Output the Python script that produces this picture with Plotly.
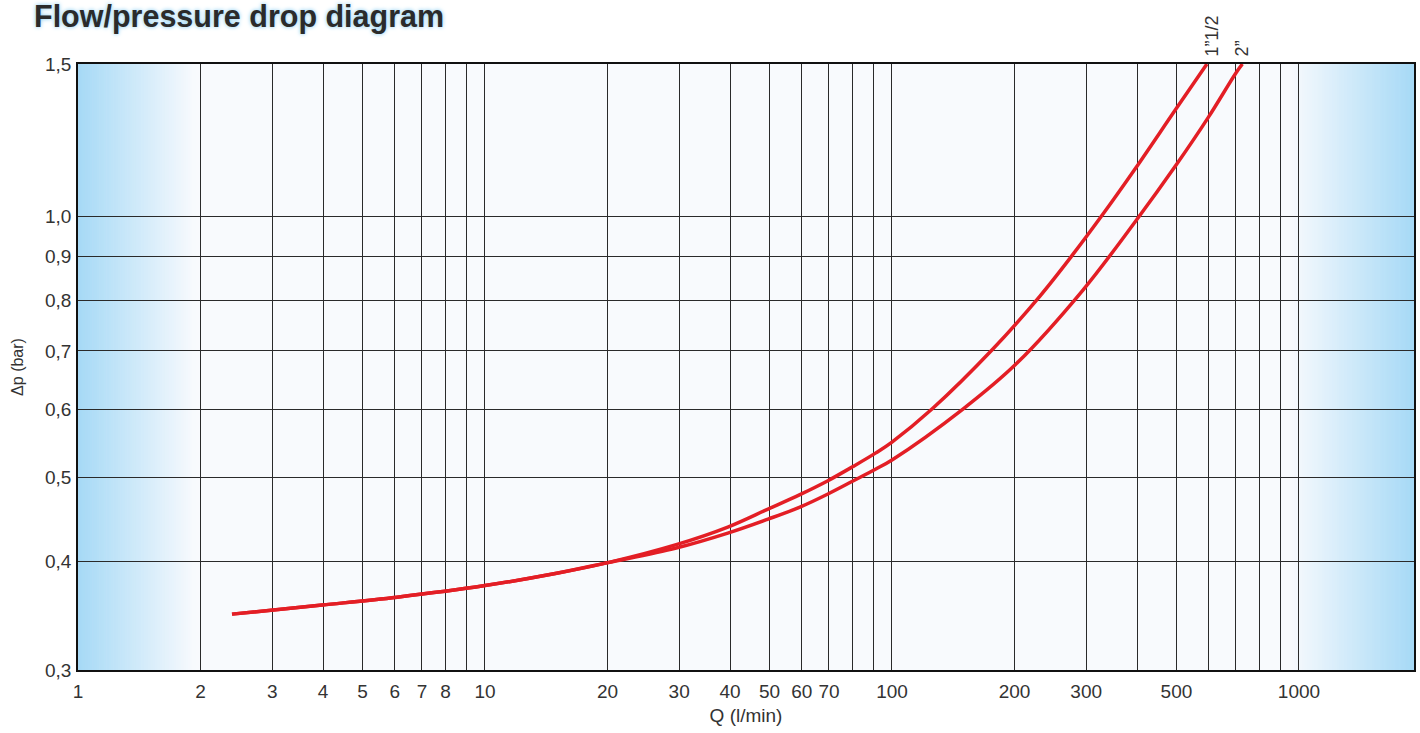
import numpy as np
import plotly.graph_objects as go

# ---------------- data ----------------
q_1half = [2.39, 3.98, 6.08, 10, 15.0, 20.05, 29.5, 39.5, 49.6, 59.4, 69.6, 80.2, 91.3, 100,
           125.4, 177, 231, 278, 330, 395.5, 499, 594]
dp_1half = [0.348, 0.3565, 0.364, 0.3754, 0.3879, 0.399, 0.4185, 0.4385, 0.460, 0.478, 0.496,
            0.515, 0.534, 0.5496, 0.600, 0.7037, 0.810, 0.904, 1.007, 1.135, 1.332, 1.5]

q_2 = [2.39, 3.98, 6.08, 10, 15.0, 20.05, 29.5, 39.5, 49.6, 59.4, 69.6, 80.2, 91.3, 100,
       149.4, 202.9, 294.6, 395.5, 499, 597.6, 700, 726]
dp_2 = [0.348, 0.3565, 0.364, 0.3754, 0.3879, 0.399, 0.4148, 0.4316, 0.4479, 0.4624, 0.4788,
        0.4956, 0.5116, 0.5241, 0.600, 0.678, 0.823, 0.986, 1.147, 1.300, 1.4646, 1.5]

series_names = ["1\u201d1/2", "2\u201d"]

x_grid = [1, 2, 3, 4, 5, 6, 7, 8, 9, 10, 20, 30, 40, 50, 60, 70, 80, 90,
          100, 200, 300, 400, 500, 600, 700, 800, 900, 1000]
x_labels = ["1", "2", "3", "4", "5", "6", "7", "8", "", "10", "20", "30", "40", "50", "60", "70", "", "",
            "100", "200", "300", "", "500", "", "", "", "", "1000"]
y_grid = [0.3, 0.4, 0.5, 0.6, 0.7, 0.8, 0.9, 1.0, 1.5]
y_labels = ["0,3", "0,4", "0,5", "0,6", "0,7", "0,8", "0,9", "1,0", "1,5"]

X_MAX = 1917
FONT = "Arial, Liberation Sans, sans-serif"
RED = "#e31e25"
TXT = "#333333"

fig = go.Figure()
for q, dp, name in [(q_1half, dp_1half, series_names[0]), (q_2, dp_2, series_names[1])]:
    fig.add_trace(go.Scatter(x=q, y=dp, mode="lines", name=name,
                             line=dict(color=RED, width=3.5, shape="spline", smoothing=1.0),
                             showlegend=False, hoverinfo="x+y+name"))

# blue side gradients (strips under the grid)
def lerp(c1, c2, t):
    return "rgb(%d,%d,%d)" % tuple(round(a + (b - a) * t) for a, b in zip(c1, c2))

blue = (166, 217, 246)
white = (248, 250, 253)
left_end = 0.0876
right_start = 0.907
n = 50
shapes = []
for i in range(n):
    t0, t1 = i / n, (i + 1) / n
    shapes.append(dict(type="rect", xref="x domain", yref="y domain",
                       x0=left_end * t0, x1=left_end * t1 + 0.0005, y0=0, y1=1,
                       fillcolor=lerp(blue, white, (i + 0.5) / n), line=dict(width=0), layer="below"))
    shapes.append(dict(type="rect", xref="x domain", yref="y domain",
                       x0=right_start + (1 - right_start) * t0,
                       x1=right_start + (1 - right_start) * t1 + 0.0005, y0=0, y1=1,
                       fillcolor=lerp(white, blue, (i + 0.5) / n), line=dict(width=0), layer="below"))

annotations = [
    dict(x=np.log10(q_1half[-1]), y=1, xref="x", yref="paper", text=series_names[0],
         textangle=-90, showarrow=False, xanchor="center", yanchor="bottom",
         xshift=5, yshift=6, font=dict(family=FONT, size=18, color=TXT)),
    dict(x=np.log10(q_2[-1]), y=1, xref="x", yref="paper", text=series_names[1],
         textangle=-90, showarrow=False, xanchor="center", yanchor="bottom",
         xshift=0, yshift=6, font=dict(family=FONT, size=18, color=TXT)),
]

fig.update_layout(
    width=1420, height=733,
    margin=dict(l=78, r=6, t=64, b=63),
    paper_bgcolor="white",
    plot_bgcolor="#f8fafd",
    shapes=shapes,
    annotations=annotations,
    title=dict(text="<b>Flow/pressure drop diagram</b>", x=34 / 1420, xref="container",
               xanchor="left", y=1 - 16 / 733, yref="container", yanchor="middle",
               font=dict(family=FONT, size=30.5, color="#2b2b2b",
                         shadow="0px 0px 4px #7cc8f0")),
    xaxis=dict(type="log", range=[0, np.log10(X_MAX)], tickmode="array",
               tickvals=x_grid, ticktext=x_labels, showgrid=True, gridcolor="#2a2a2a",
               gridwidth=1, showline=True, linecolor="#111111", linewidth=1.5, mirror=True,
               ticks="", ticklabelstandoff=3, automargin=False,
               tickfont=dict(family=FONT, size=19, color=TXT),
               title=dict(text="Q (l/min)", font=dict(family=FONT, size=19, color=TXT),
                          standoff=8),
               zeroline=False),
    yaxis=dict(type="log", range=[np.log10(0.3), np.log10(1.5)], tickmode="array",
               tickvals=y_grid, ticktext=y_labels, showgrid=True, gridcolor="#2a2a2a",
               gridwidth=1, showline=True, linecolor="#111111", linewidth=1.5, mirror=True,
               ticks="", ticklabelstandoff=1, automargin=False,
               tickfont=dict(family=FONT, size=19, color=TXT),
               title=dict(text="\u0394p (bar)", font=dict(family=FONT, size=16, color=TXT),
                          standoff=17),
               zeroline=False),
)

fig.write_html("out.html", config={"displayModeBar": False},
               post_script="document.body.style.margin='0';")
